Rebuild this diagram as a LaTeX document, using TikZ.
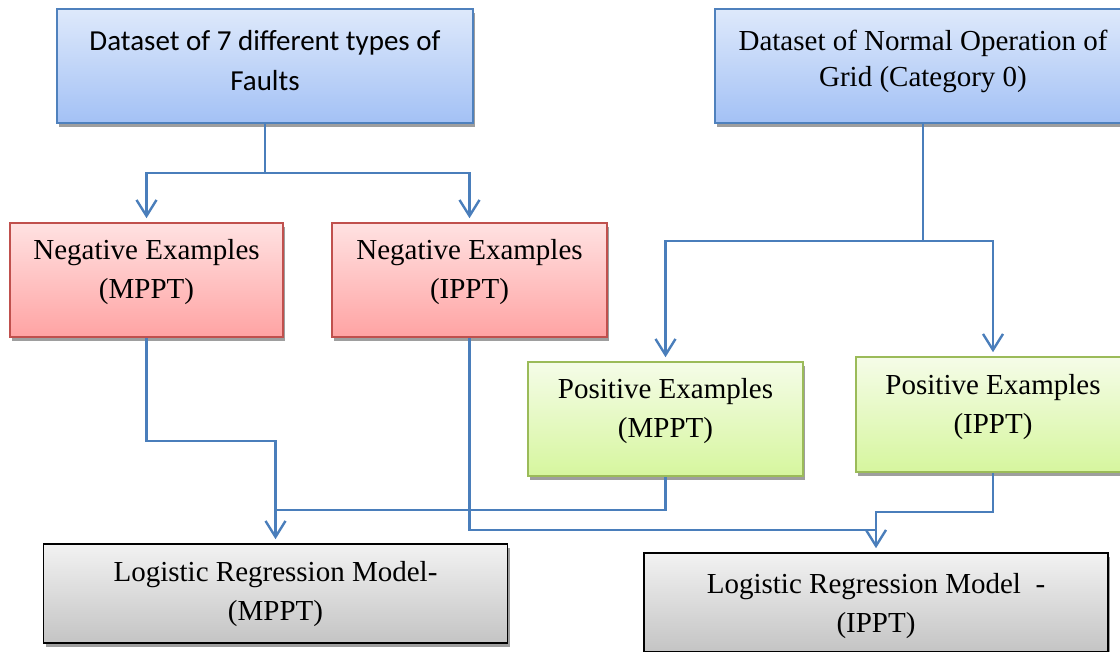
\documentclass[tikz,border=0pt]{standalone}
\usepackage{fontspec}
\setmainfont{Liberation Serif}
\newfontfamily\calibrifont{Carlito}
\usetikzlibrary{arrows.meta, positioning, shadows}

\definecolor{lineblue}{RGB}{74,126,187}
\definecolor{blueedge}{RGB}{79,129,189}
\definecolor{bluetop}{RGB}{222,233,251}
\definecolor{bluebot}{RGB}{163,193,245}
\definecolor{rededge}{RGB}{192,80,77}
\definecolor{redtop}{RGB}{255,226,226}
\definecolor{redbot}{RGB}{255,163,163}
\definecolor{greenedge}{RGB}{155,187,89}
\definecolor{greentop}{RGB}{245,252,232}
\definecolor{greenbot}{RGB}{214,246,158}
\definecolor{graytop}{RGB}{242,242,242}
\definecolor{graybot}{RGB}{196,196,196}

\begin{document}
\begin{tikzpicture}[
        x=0.5pt, y=-0.5pt,
        box/.style={draw, line width=0.8pt, align=center, inner sep=0pt,
            minimum height=57pt, font=\fontsize{14.5}{19.5}\selectfont,
            drop shadow={shadow xshift=1pt, shadow yshift=-2pt, fill=black!38, opacity=1}},
        datasetbox/.style={box, draw=blueedge, top color=bluetop, bottom color=bluebot, minimum width=208pt},
        negbox/.style={box, draw=rededge, top color=redtop, bottom color=redbot, text depth=11pt},
        posbox/.style={box, draw=greenedge, top color=greentop, bottom color=greenbot, text depth=11pt},
        modelbox/.style={box, draw=black, top color=graytop, bottom color=graybot, minimum width=232pt, minimum height=49.5pt},
        conn/.style={draw=lineblue, line width=1.2pt},
        arr/.style={conn, -{Straight Barb[length=8pt, width=10pt]}, shorten >=2pt}
    ]
        \useasboundingbox (0,0) rectangle (1120,652);

        % Datasets
        \node[datasetbox, font=\calibrifont\fontsize{14.5}{20}\selectfont, text depth=5.5pt] (faults) at (265,66) {Dataset of 7 different types of\\Faults};
        \node[datasetbox, font=\fontsize{14.5}{18}\selectfont, text depth=8pt] (normal) at (923,66) {Dataset of Normal Operation of\\Grid (Category 0)};

        % Examples
        \node[negbox, minimum width=136.5pt] (negM) at (146.5,280) {Negative Examples\\(MPPT)};
        \node[negbox, minimum width=137.5pt] (negI) at (469.5,280) {Negative Examples\\(IPPT)};
        \node[posbox, minimum width=137.5pt] (posM) at (665.5,419) {Positive Examples\\(MPPT)};
        \node[posbox, minimum width=137pt, minimum height=57.5pt] (posI) at (993,414.5) {Positive Examples\\(IPPT)};

        % Models
        \node[modelbox, text depth=3pt] (lrM) at (275.5,593.5) {Logistic Regression Model-\\(MPPT)};
        \node[modelbox, text depth=0pt] (lrI) at (876,602.5) {Logistic Regression Model~~-\\(IPPT)};

        % Turning points
        \coordinate (faultsplit) at (265,173);
        \coordinate (normalsplit) at (923,241);
        \coordinate (negMturn) at (275.5,441);
        \coordinate (posMturn) at (275.5,510);
        \coordinate (negIturn) at (876,530);
        \coordinate (posIturn) at (876,512);

        % Lines
        \draw[conn] (faults.south) -- (faultsplit);
        \draw[arr] (faultsplit) -| (negM.north);
        \draw[arr] (faultsplit) -| (negI.north);
        \draw[conn] (normal.south) -- (normalsplit);
        \draw[arr] (normalsplit) -| (posM.north);
        \draw[arr] (normalsplit) -| (posI.north);
        \draw[arr] (negM.south) |- (negMturn) -- (lrM.north);
        \draw[conn] (posM.south) |- (posMturn);
        \draw[conn] (negI.south) |- (negIturn);
        \draw[arr] (posI.south) |- (posIturn) -- (lrI.north);
\end{tikzpicture}
\end{document}
